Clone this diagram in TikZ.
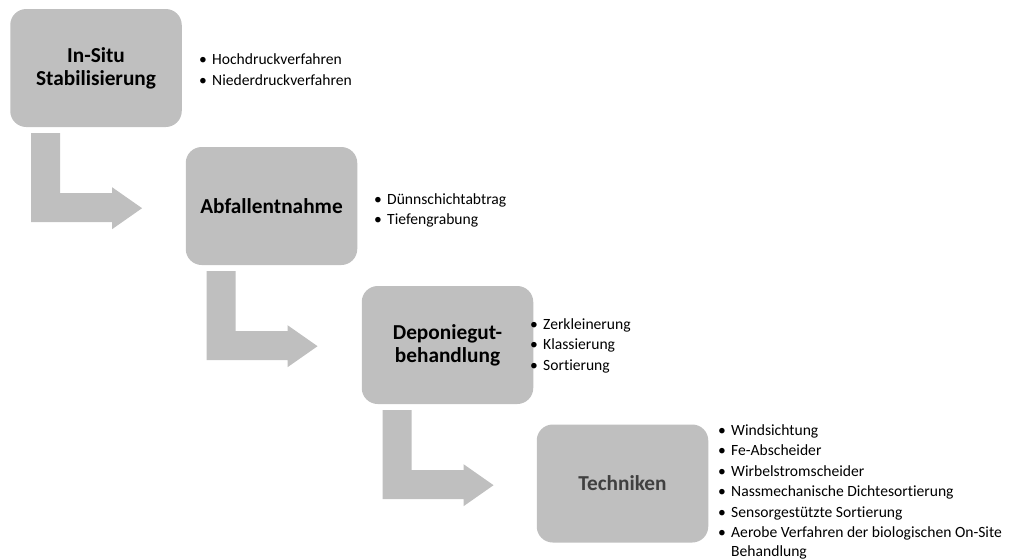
\documentclass[tikz,border=0pt]{standalone}
\usepackage{fontspec}
\setmainfont{Carlito}[Ligatures=NoCommon]
\usetikzlibrary{calc}

\definecolor{boxgray}{HTML}{BFBFBF}
\definecolor{techgray}{HTML}{404040}

% bullet column and list font
\newcommand\bul{\makebox[13pt][l]{•}}
\newcommand\listfont{\fontsize{15.6}{20.4}\selectfont}

\tikzset{
  x=1pt, y=-1pt,
  stepbox/.style={fill=boxgray, rounded corners=16pt, minimum width=171.5pt,
    minimum height=118pt, inner sep=0pt, align=center,
    font=\fontsize{21.3}{23}\selectfont\bfseries},
  itemlist/.style={anchor=base west, inner sep=0pt},
  % bent block arrow, placed at the south west corner of the box it leaves
  bentarrow/.pic={
    \fill[boxgray] (21,6) -- (50,6) -- (50,66) -- (102,66) -- (102,60)
      -- (132,81) -- (102,102) -- (102,95) -- (21,95) -- cycle;
  }
}

\begin{document}
\begin{tikzpicture}
\useasboundingbox (0,0) rectangle (1010,558);

% process steps
\node[stepbox] (b1) at (96,68)      {In-Situ\\Stabilisierung};
\node[stepbox] (b2) at (271.5,206)  {Abfallentnahme};
\node[stepbox] (b3) at (447.5,345)  {Deponiegut-\\behandlung};
\node[stepbox, text=techgray] (b4) at (622.5,483.5) {Techniken};

% arrows from one step to the next
\pic at (b1.south west) {bentarrow};
\pic at (b2.south west) {bentarrow};
\pic at (b3.south west) {bentarrow};

% bullet lists beside each step
\node[itemlist] (l1) at (199,64) {\listfont\begin{tabular}[t]{@{}l@{}l@{}}
  \bul & Hochdruckverfahren\\[0.6pt]
  \bul & Niederdruckverfahren
\end{tabular}};
\node[itemlist] (l2) at (374,204) {\listfont\begin{tabular}[t]{@{}l@{}l@{}}
  \bul & Dünnschichtabtrag\\
  \bul & Tiefengrabung
\end{tabular}};
\node[itemlist] (l3) at (530,329.3) {\listfont\begin{tabular}[t]{@{}l@{}l@{}}
  \bul & Zerkleinerung\\
  \bul & Klassierung\\
  \bul & Sortierung
\end{tabular}};
\node[itemlist] (l4) at (718,435.5) {\listfont\begin{tabular}[t]{@{}l@{}l@{}}
  \bul & Windsichtung\\
  \bul & Fe-Abscheider\\
  \bul & Wirbelstromscheider\\
  \bul & Nassmechanische Dichtesortierung\\
  \bul & Sensorgestützte Sortierung\\
  \bul & Aerobe Verfahren der biologischen On-Site\\[-1.6pt]
       & Behandlung
\end{tabular}};
\end{tikzpicture}
\end{document}
